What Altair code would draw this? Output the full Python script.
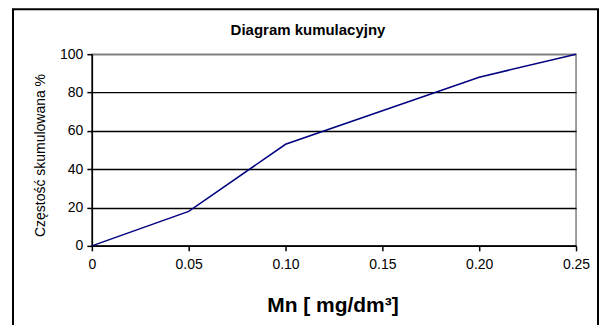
import altair as alt
import pandas as pd

mn = [0.0, 0.05, 0.10, 0.15, 0.20, 0.25]
cum_pct = [0, 18, 53, 70.5, 88, 100]
x_ticks = [0.0, 0.05, 0.10, 0.15, 0.20, 0.25]
y_ticks = [0, 20, 40, 60, 80, 100]

df = pd.DataFrame({"mn": mn, "pct": cum_pct})
FONT = "Liberation Sans"

frame = alt.Chart(pd.DataFrame({"a": [0]})).mark_rect(
    fill=None, stroke="black", strokeWidth=2, clip=False
).encode(
    x=alt.value(-79), x2=alt.value(507), y=alt.value(-45), y2=alt.value(290)
)

line = alt.Chart(df).mark_line(color="#000080", strokeWidth=1.5).encode(
    x=alt.X("mn:Q",
            scale=alt.Scale(domain=[0, 0.25], nice=False, zero=True),
            axis=alt.Axis(values=x_ticks, grid=False,
                          labelExpr="datum.value == 0 ? '0' : format(datum.value, '.2f')",
                          title="Mn [ mg/dm³]", titleFontSize=21, titleFontWeight="bold",
                          titleX=241, titleY=66, titleBaseline="alphabetic",
                          labelFontSize=14, labelPadding=7, tickSize=5, tickWidth=1.5,
                          domainColor="black", domainWidth=1.5, tickColor="black", labelColor="black",
                          labelFlush=False)),
    y=alt.Y("pct:Q",
            scale=alt.Scale(domain=[0, 100], nice=False),
            axis=alt.Axis(values=y_ticks, grid=True,
                          gridColor=alt.condition("datum.value == 100", alt.value("#808080"), alt.value("black")),
                          gridWidth=1.5,
                          title="Częstość skumulowana  %", titleFontSize=14, titleFontWeight="normal",
                          titleX=-44, titleY=101,
                          labelFontSize=14, labelPadding=4, tickSize=5, tickWidth=1.5,
                          domainColor="black", domainWidth=1.5, tickColor="black", labelColor="black")),
)

chart = alt.layer(frame, line).properties(
    width=485, height=192,
    autosize=alt.AutoSizeParams(type="none"),
    padding={"left": 84, "top": 46, "right": 24, "bottom": 79},
    title=alt.TitleParams("Diagram kumulacyjny", fontSize=15, fontWeight="bold",
                          font=FONT, anchor="middle", dx=-26, offset=-30, color="black"),
).configure(font=FONT).configure_axis(
    labelFont=FONT, titleFont=FONT, titleColor="black"
).configure_view(stroke="#808080", strokeWidth=1.5)

chart.save("out.html", embed_options={"renderer": "svg", "actions": False})
